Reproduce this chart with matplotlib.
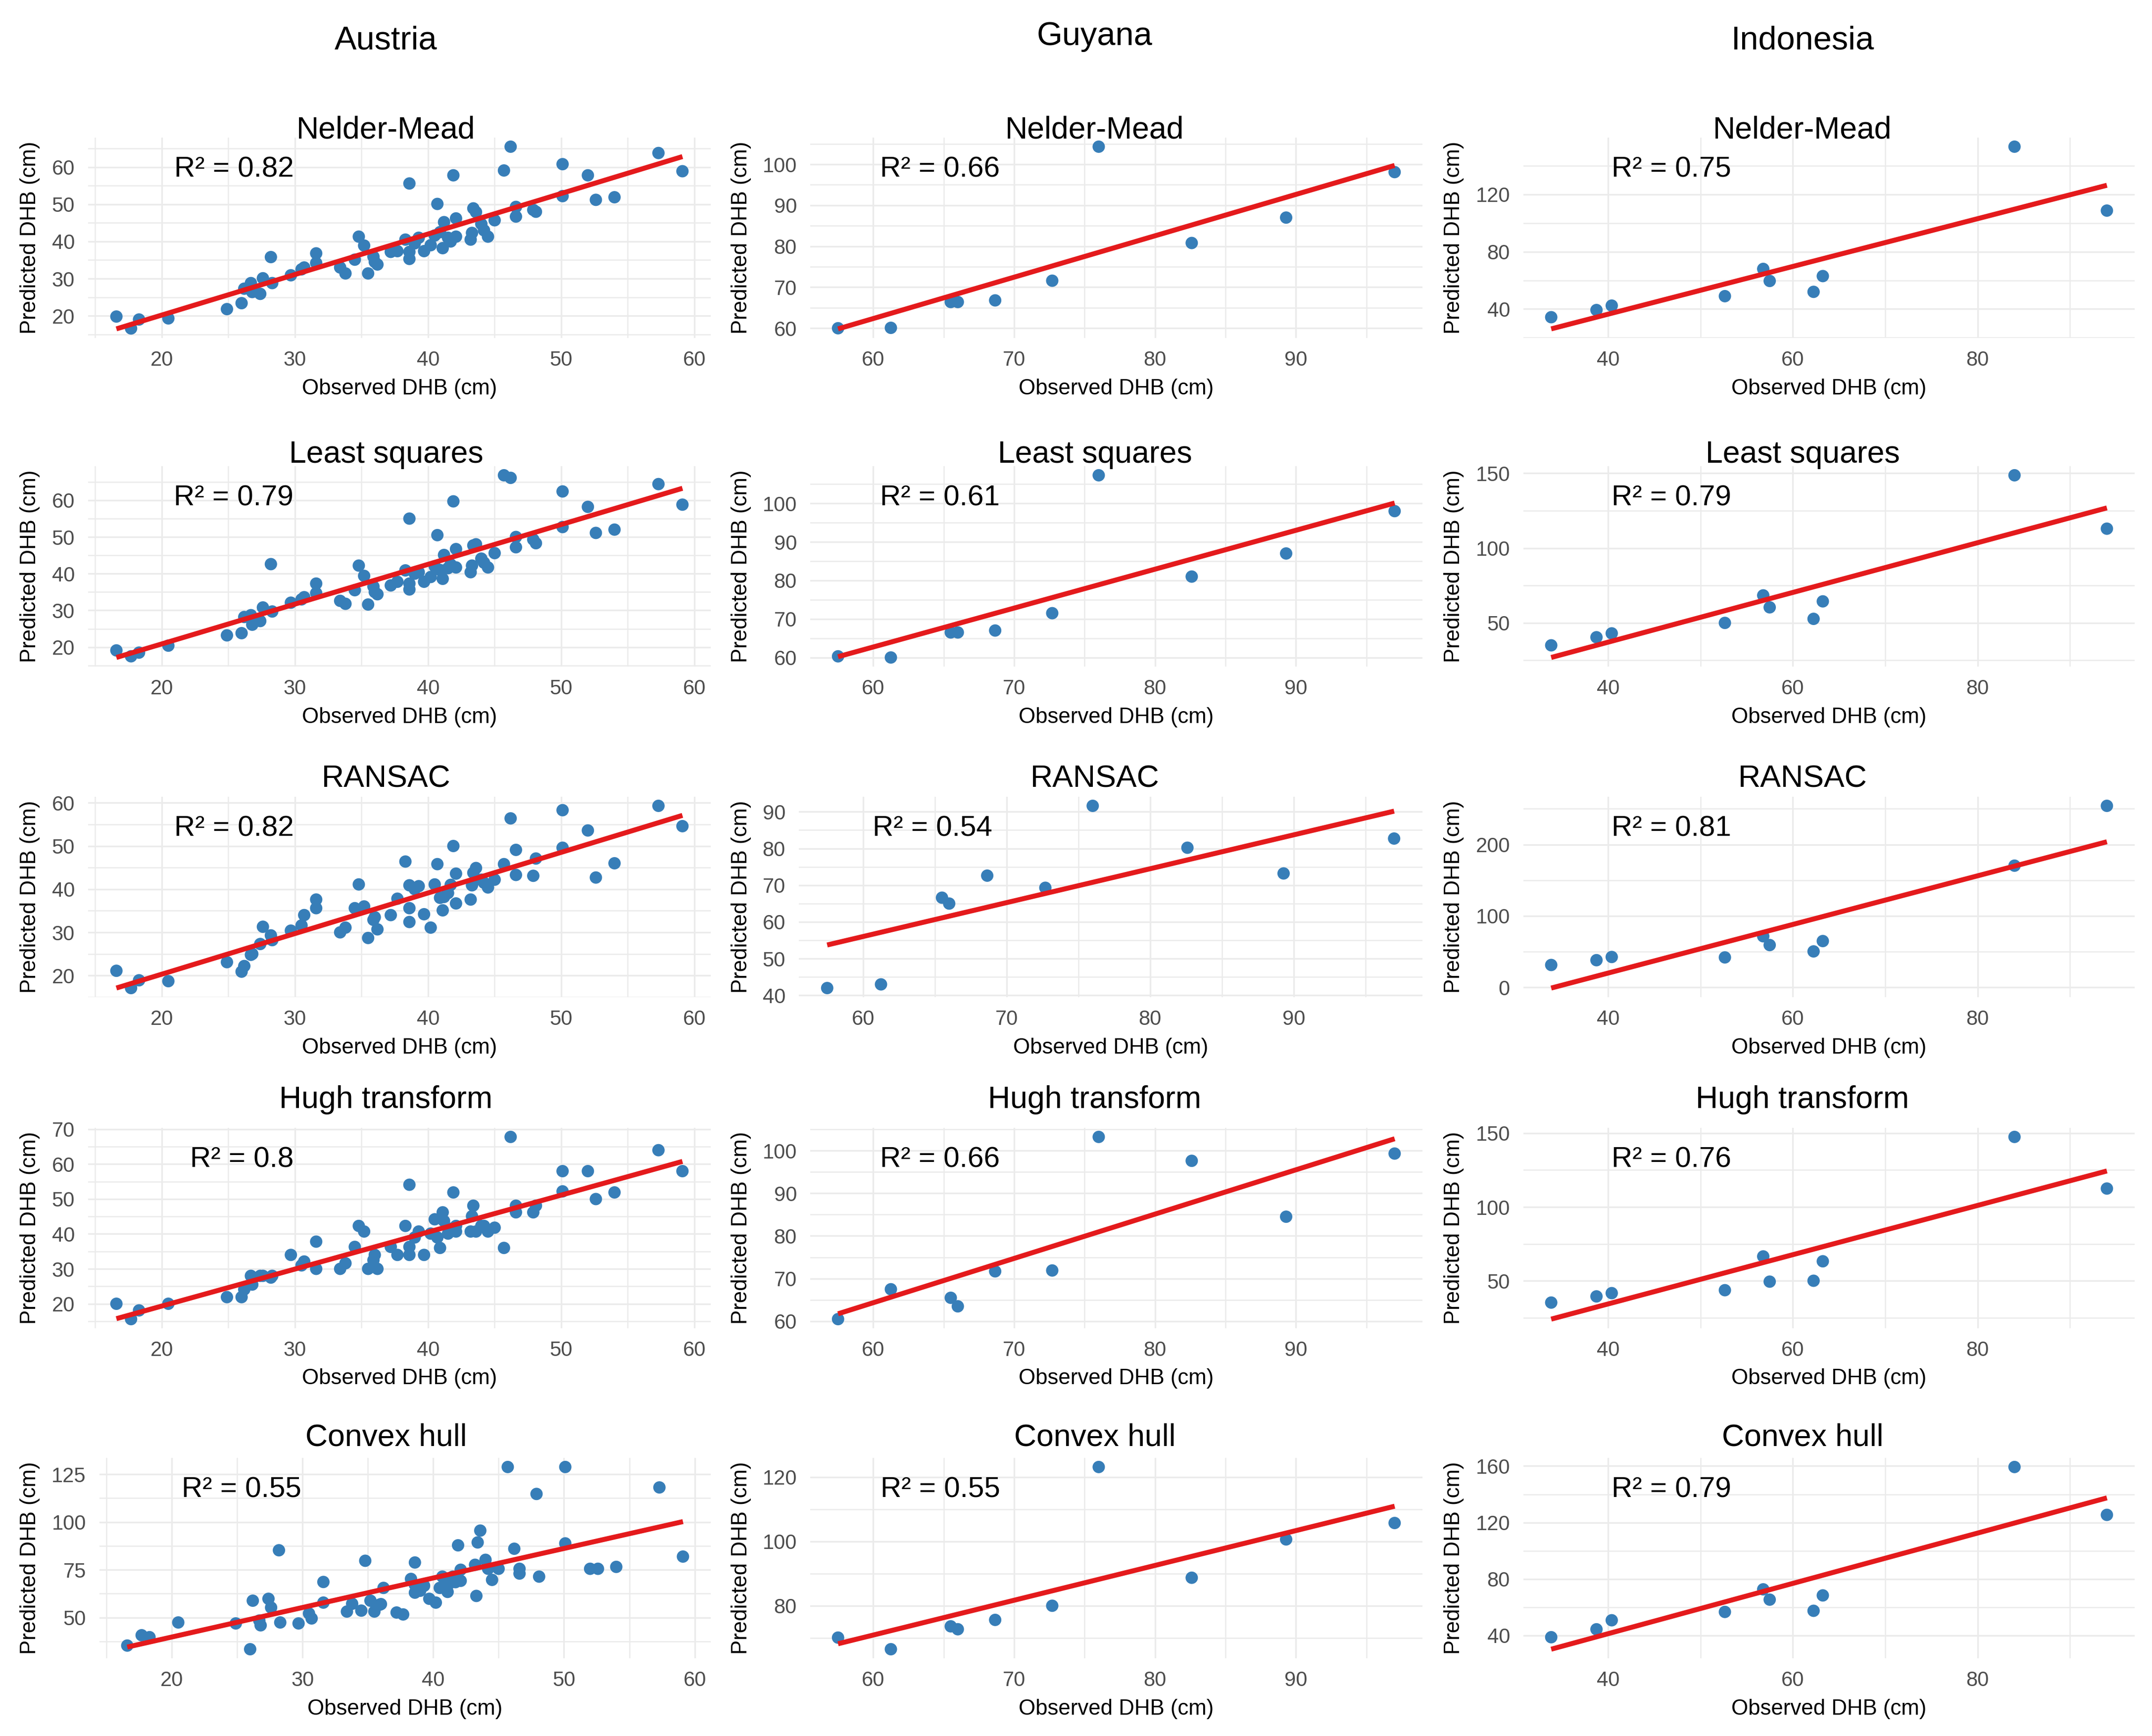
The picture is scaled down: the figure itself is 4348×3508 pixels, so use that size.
import numpy as np
import matplotlib
matplotlib.use("Agg")
import matplotlib.pyplot as plt
from matplotlib.ticker import FixedLocator, NullFormatter

plt.rcParams['font.family'] = ['Liberation Sans', 'DejaVu Sans']

# ---------------- data ----------------
countries = ["Austria", "Guyana", "Indonesia"]
methods = ["Nelder-Mead", "Least squares", "RANSAC", "Hugh transform", "Convex hull"]

aut_obs = [16.6, 17.7, 18.3, 20.5, 24.9, 26.0, 26.2, 26.7, 26.8, 27.4, 27.6, 28.2, 28.3, 29.7,
           30.7, 31.6, 31.6, 33.4, 33.8, 34.5, 34.8, 35.2, 35.5, 35.9, 36.2, 37.2, 37.7, 38.3,
           38.6, 38.6, 38.6, 39.3, 39.7, 40.2, 40.5, 40.7, 41.1, 41.2, 41.5, 41.9, 42.1, 42.1,
           43.2, 43.3, 43.4, 43.6, 44.0, 44.5, 45.0, 45.7, 46.2, 46.6, 46.6, 47.9, 48.1, 50.1,
           50.1, 52.0, 52.6, 54.0, 57.3, 59.1, 30.5, 36.0, 39.0, 40.9, 41.7, 44.2]
aut_nm = [19.8, 16.6, 19.0, 19.3, 21.8, 23.4, 27.3, 28.8, 26.4, 25.9, 30.1, 35.8, 28.8, 30.9,
          33.0, 36.8, 34.2, 33.0, 31.4, 35.1, 41.3, 38.9, 31.4, 35.9, 33.8, 37.2, 37.4, 40.5,
          37.2, 55.6, 35.3, 41.0, 37.4, 39.0, 41.6, 50.1, 38.2, 45.2, 41.0, 57.8, 46.2, 41.3,
          40.5, 42.3, 48.9, 47.9, 44.7, 41.3, 45.7, 59.1, 65.5, 49.3, 46.7, 48.5, 48.0, 60.8,
          52.2, 57.8, 51.2, 51.9, 63.8, 58.9, 32.5, 34.5, 39.5, 42.5, 40.0, 43.0]
aut_ls = [19.1, 17.5, 18.5, 20.4, 23.2, 23.8, 28.2, 28.7, 26.1, 27.1, 30.8, 42.6, 29.7, 32.1,
          33.6, 37.3, 34.7, 32.6, 31.8, 35.5, 42.2, 39.4, 31.6, 36.5, 34.4, 36.8, 37.8, 40.9,
          37.3, 55.0, 35.7, 40.4, 37.8, 39.1, 42.0, 50.5, 38.6, 45.1, 41.5, 59.7, 46.7, 41.7,
          40.4, 42.2, 47.7, 48.0, 44.1, 41.7, 45.6, 66.8, 66.1, 50.0, 47.2, 49.3, 48.3, 62.4,
          52.7, 58.2, 51.1, 52.0, 64.4, 58.8, 33.0, 35.0, 40.0, 41.0, 42.5, 43.0]
aut_ransac = [21.1, 17.1, 18.9, 18.7, 23.1, 20.9, 22.2, 24.8, 25.0, 27.3, 31.3, 29.3, 28.2, 30.4,
              34.0, 37.6, 35.6, 30.0, 31.1, 35.6, 41.1, 36.0, 28.7, 32.9, 30.7, 34.0, 37.8, 46.4,
              35.6, 40.9, 32.4, 40.7, 34.2, 31.1, 41.1, 45.8, 35.1, 38.2, 39.1, 50.0, 43.6, 36.7,
              37.6, 40.9, 43.8, 44.9, 42.2, 40.4, 42.2, 45.8, 56.4, 49.1, 43.3, 43.1, 47.1, 58.3,
              49.6, 53.6, 42.7, 46.0, 59.3, 54.6, 31.6, 33.5, 40.0, 38.0, 41.0, 41.5]
aut_hough = [20.0, 15.6, 18.1, 20.0, 21.9, 21.9, 24.1, 28.0, 25.5, 28.0, 28.0, 27.5, 28.0, 34.0,
             32.1, 37.8, 30.0, 30.0, 31.6, 36.3, 42.3, 40.7, 30.0, 32.5, 30.0, 36.3, 34.0, 42.3,
             34.0, 54.1, 36.3, 40.7, 34.0, 40.1, 44.2, 39.0, 46.2, 43.7, 40.1, 51.9, 42.3, 40.7,
             40.7, 45.1, 48.1, 40.7, 42.3, 40.7, 41.8, 36.0, 67.8, 48.1, 46.2, 46.2, 48.1, 58.0,
             52.2, 58.0, 50.0, 51.9, 64.0, 58.0, 31.0, 34.0, 39.0, 36.0, 41.5, 42.3]
aut_hull = [35.3, 40.7, 39.7, 47.4, 46.9, 33.4, 58.8, 48.4, 45.9, 59.8, 55.2, 85.2, 47.4, 46.9,
            49.5, 68.6, 57.8, 53.1, 57.2, 53.6, 79.7, 58.8, 53.1, 56.7, 65.5, 52.6, 51.6, 70.2,
            63.0, 78.8, 67.1, 66.6, 59.8, 57.8, 65.5, 71.4, 63.4, 67.6, 71.4, 87.8, 75.0, 69.2,
            77.6, 61.3, 89.3, 95.5, 80.2, 69.7, 75.5, 128.8, 86.0, 75.5, 73.0, 114.7, 71.4, 128.8,
            88.8, 75.5, 75.5, 76.5, 118.1, 81.9, 52.1, 57.0, 64.0, 66.0, 68.5, 75.5]

guy_obs = [57.5, 61.25, 65.5, 66.0, 68.65, 72.7, 76.0, 82.6, 89.3, 97.0]
guy_nm = [60.0, 60.1, 66.4, 66.4, 66.8, 71.6, 104.3, 80.8, 87.0, 98.1]
guy_ls = [60.3, 60.0, 66.5, 66.5, 67.0, 71.5, 107.3, 81.0, 87.0, 98.0]
guy_ransac = [42.0, 43.0, 66.6, 65.0, 72.6, 69.3, 91.6, 80.2, 73.2, 82.7]
guy_hough = [60.5, 67.5, 65.5, 63.5, 71.7, 71.9, 103.2, 97.6, 84.5, 99.3]
guy_hull = [70.1, 66.5, 73.6, 72.7, 75.6, 80.0, 123.1, 88.7, 100.6, 105.7]

ind_obs = [33.85, 38.75, 40.4, 52.65, 56.8, 57.5, 62.25, 63.25, 84.0, 94.0]
ind_nm = [34.3, 39.3, 42.4, 49.0, 68.0, 59.6, 52.0, 63.0, 153.3, 108.7]
ind_ls = [35.0, 40.4, 43.0, 50.0, 68.4, 60.4, 52.7, 64.4, 148.7, 113.0]
ind_ransac = [31.3, 38.0, 42.5, 41.9, 71.5, 59.2, 50.3, 64.8, 170.4, 254.2]
ind_hough = [35.2, 39.4, 41.6, 43.6, 66.5, 49.4, 50.0, 63.2, 147.5, 112.5]
ind_hull = [38.8, 44.4, 50.8, 56.7, 72.7, 65.4, 57.5, 68.4, 159.3, 125.4]

observed = {"Austria": aut_obs, "Guyana": guy_obs, "Indonesia": ind_obs}
predicted = {"Austria": [aut_nm, aut_ls, aut_ransac, aut_hough, aut_hull],
             "Guyana": [guy_nm, guy_ls, guy_ransac, guy_hough, guy_hull],
             "Indonesia": [ind_nm, ind_ls, ind_ransac, ind_hough, ind_hull]}
r2_labels = {"Austria": ["0.82", "0.79", "0.82", "0.8", "0.55"],
             "Guyana": ["0.66", "0.61", "0.54", "0.66", "0.55"],
             "Indonesia": ["0.75", "0.79", "0.81", "0.76", "0.79"]}
x_ticks = {"Austria": [20, 30, 40, 50, 60], "Guyana": [60, 70, 80, 90], "Indonesia": [40, 60, 80]}
y_ticks = {"Austria": [[20, 30, 40, 50, 60], [20, 30, 40, 50, 60], [20, 30, 40, 50, 60],
                       [20, 30, 40, 50, 60, 70], [50, 75, 100, 125]],
           "Guyana": [[60, 70, 80, 90, 100], [60, 70, 80, 90, 100], [40, 50, 60, 70, 80, 90],
                      [60, 70, 80, 90, 100], [80, 100, 120]],
           "Indonesia": [[40, 80, 120], [50, 100, 150], [0, 100, 200], [50, 100, 150],
                         [40, 80, 120, 160]]}

# ---------------- layout (pixels) ----------------
W, H = 4348, 3508
fig = plt.figure(figsize=(W / 300, H / 300), dpi=300)
fig.patch.set_facecolor("white")

col_right = [1436, 2874, 4313]
col_left2 = [178, 1614, 3055]
col_title_x = [780, 2212, 3642]
col_title_y = [83, 74, 83]
ylabel_x = [61, 1498, 2937]
row_bottom = [683, 1347, 2015, 2684, 3351]
panel_h = 405
title_base = [280, 935, 1590, 2239, 2921]
r2_x = [0.33, 0.31, 0.34]

PT_BLUE = "#377EB8"
LINE_RED = "#E41A1C"
GRID = "#EBEBEB"


def fx(px):
    return px / W


def fy(py):
    return 1 - py / H


def minor_from(major, lo, hi):
    step = major[1] - major[0]
    cands = [major[0] - step / 2] + [m + step / 2 for m in major]
    return [c for c in cands if lo <= c <= hi]


for ci, country in enumerate(countries):
    fig.text(fx(col_title_x[ci]), fy(col_title_y[ci]), country, ha="center", va="center",
             fontsize=16, color="black")
    x = np.array(observed[country], dtype=float)
    for ri, method in enumerate(methods):
        y = np.array(predicted[country][ri], dtype=float)
        yt = y_ticks[country][ri]
        three = any(len(str(t)) >= 3 for t in yt)
        left = col_left2[ci] + (23 if three else 0)
        right = col_right[ci]
        bottom = row_bottom[ri]
        top = bottom - panel_h
        ax = fig.add_axes([fx(left), fy(bottom), fx(right - left), panel_h / H])

        slope, inter = np.polyfit(x, y, 1)
        xl = np.array([x.min(), x.max()])
        yl = slope * xl + inter

        ax.scatter(x, y, s=36, color=PT_BLUE, edgecolors="none", zorder=3)
        ax.plot(xl, yl, color=LINE_RED, lw=2.4, solid_capstyle="butt", zorder=4)

        xr = x.max() - x.min()
        ax.set_xlim(x.min() - 0.05 * xr, x.max() + 0.05 * xr)
        ylo = min(y.min(), yl.min())
        yhi = max(y.max(), yl.max())
        yr = yhi - ylo
        ax.set_ylim(ylo - 0.05 * yr, yhi + 0.05 * yr)

        xt = x_ticks[country]
        ax.xaxis.set_major_locator(FixedLocator(xt))
        ax.yaxis.set_major_locator(FixedLocator(yt))
        x0, x1 = ax.get_xlim()
        y0, y1 = ax.get_ylim()
        ax.xaxis.set_minor_locator(FixedLocator(minor_from(xt, x0, x1)))
        ax.yaxis.set_minor_locator(FixedLocator(minor_from(yt, y0, y1)))
        ax.xaxis.set_minor_formatter(NullFormatter())
        ax.yaxis.set_minor_formatter(NullFormatter())
        ax.set_xticklabels([str(t) for t in xt])
        ax.set_yticklabels([str(t) for t in yt])

        ax.grid(which="major", color=GRID, lw=0.8, zorder=0)
        ax.grid(which="minor", color=GRID, lw=0.6, zorder=0)
        ax.set_axisbelow(True)
        for s in ax.spines.values():
            s.set_visible(False)
        ax.tick_params(axis="both", which="both", length=0, labelsize=10, labelcolor="#4D4D4D")
        ax.tick_params(axis="x", pad=6)
        ax.tick_params(axis="y", pad=6.5)
        ax.set_facecolor("white")

        ax.text(r2_x[ci], 0.84, "R² = " + r2_labels[country][ri], transform=ax.transAxes,
                ha="right", va="center", fontsize=14, color="black", zorder=5)

        # titles and axis labels
        fig.text(fx(col_title_x[ci]), fy(title_base[ri]), method, ha="center", va="baseline",
                 fontsize=15, color="black")
        fig.text(fx((left + right) / 2), fy(bottom + 102), "Observed DHB (cm)", ha="center",
                 va="center", fontsize=10.5, color="black")
        fig.text(fx(ylabel_x[ci]), fy((top + bottom) / 2), "Predicted DHB (cm)", ha="center",
                 va="center", rotation=90, fontsize=10.5, color="black")

fig.savefig("out.png", dpi=300, facecolor="white")
